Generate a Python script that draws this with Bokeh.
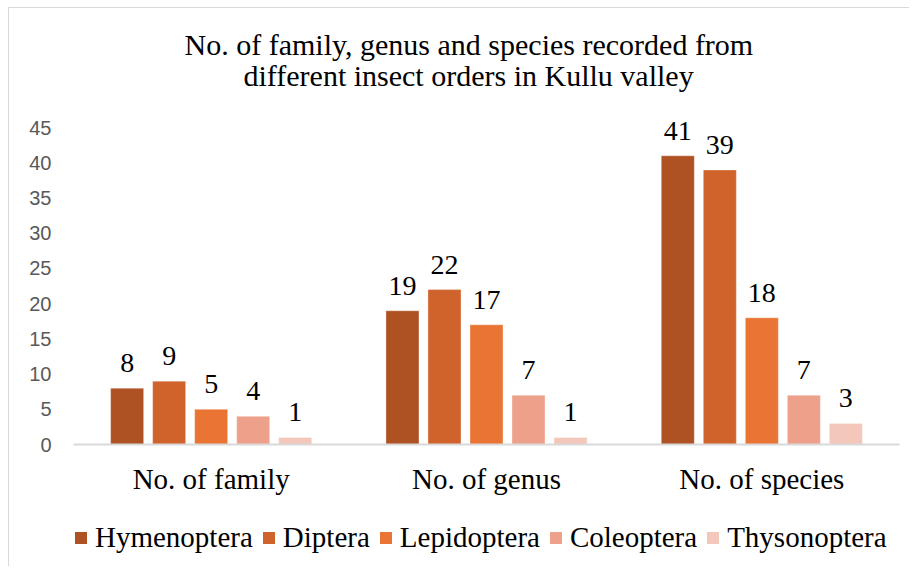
from bokeh.plotting import figure
from bokeh.layouts import column
from bokeh.models import ColumnDataSource, Range1d, FactorRange, Legend, LegendItem, Title
from bokeh.transform import dodge
from bokeh.core.properties import value
from bokeh.embed import file_html
from bokeh.resources import INLINE

categories = ["No. of family", "No. of genus", "No. of species"]
orders = ["Hymenoptera", "Diptera", "Lepidoptera", "Coleoptera", "Thysonoptera"]
hymenoptera = [8, 19, 41]
diptera = [9, 22, 39]
lepidoptera = [5, 17, 18]
coleoptera = [4, 7, 7]
thysonoptera = [1, 1, 3]
colors = ["#AE5224", "#D0632B", "#EA7434", "#EEA18A", "#F3C7B9"]
y_ticks = [0, 5, 10, 15, 20, 25, 30, 35, 40, 45]
title_lines = ["No. of family, genus and species recorded from",
               "different insect orders in Kullu valley"]

series = [hymenoptera, diptera, lepidoptera, coleoptera, thysonoptera]

SERIF = "Liberation Serif"

# main chart (y range a little above 45 so the top value label is not clipped)
p = figure(frame_width=826, frame_height=338,
           x_range=FactorRange(*categories, range_padding=0),
           y_range=Range1d(0, 48), output_backend="svg", toolbar_location=None,
           min_border_left=64, min_border_right=10, min_border_top=98, min_border_bottom=56)

p.add_layout(Title(text=title_lines[1], align="left", text_font=SERIF, text_font_size="30px",
                   text_font_style="normal", text_color="#000000", standoff=29, offset=170), "above")
p.add_layout(Title(text=title_lines[0], align="left", text_font=SERIF, text_font_size="30px",
                   text_font_style="normal", text_color="#000000", standoff=-36, offset=111), "above")

pitch = 0.1526
width = 0.12
for i, (name, vals, col) in enumerate(zip(orders, series, colors)):
    src = ColumnDataSource(dict(cat=categories, val=vals, lbl=[str(v) for v in vals]))
    off = (i - 2) * pitch
    p.vbar(x=dodge("cat", off, range=p.x_range), top="val", width=width, source=src,
           fill_color=col, line_color="#FFFFFF", line_alpha=0.35, line_width=1)
    p.text(x=dodge("cat", off, range=p.x_range), y="val", text="lbl", source=src,
           text_font=value(SERIF), text_font_size="28px", text_align="center",
           text_baseline="alphabetic", y_offset=-25, text_color="#000000")

p.xaxis.axis_line_color = "#D9D9D9"
p.xaxis.axis_line_width = 2
p.xaxis.major_tick_line_color = None
p.xaxis.major_tick_out = 0
p.xaxis.minor_tick_line_color = None
p.xaxis.major_label_text_font = SERIF
p.xaxis.major_label_text_font_size = "29px"
p.xaxis.major_label_text_color = "#000000"
p.xaxis.major_label_standoff = 18

p.yaxis.ticker = y_ticks
p.yaxis.axis_line_color = None
p.yaxis.major_tick_line_color = None
p.yaxis.major_tick_out = 0
p.yaxis.minor_tick_line_color = None
p.yaxis.major_label_text_font = "Liberation Sans"
p.yaxis.major_label_text_font_size = "20px"
p.yaxis.major_label_text_color = "#595959"
p.yaxis.major_label_standoff = 22

p.xgrid.grid_line_color = None
p.ygrid.grid_line_color = None
p.outline_line_color = None

# legend strip under the chart (its frame is aligned with the chart's frame)
lg = figure(width=900, height=66, x_range=Range1d(0, 1), y_range=Range1d(0, 1),
            output_backend="svg", toolbar_location=None,
            x_axis_location=None, y_axis_location=None, min_border=0)
lg.outline_line_color = None
lg.grid.visible = False
items = []
for name, col in zip(orders, colors):
    # zero-height swatch renderer: only its style is used by the legend
    r = lg.vbar(x=[0.5], top=[0], bottom=[0], width=0.01, fill_color=col,
                line_color=col, line_alpha=0, line_width=0)
    items.append(LegendItem(label=name, renderers=[r]))
legend = Legend(items=items, orientation="horizontal", location=(0, 12),
                label_text_font=SERIF, label_text_font_size="29px", label_text_color="#000000",
                glyph_width=15, glyph_height=15, spacing=8, label_standoff=7,
                border_line_color=None, background_fill_alpha=0, padding=0, margin=0)
lg.add_layout(legend, "center")

layout = column(p, lg, spacing=0)
layout.styles = {"margin-left": "8px", "margin-top": "7px",
                 "border-left": "1px solid #D9D9D9", "border-top": "1px solid #D9D9D9"}

open("out.html", "w").write(file_html(layout, INLINE))
